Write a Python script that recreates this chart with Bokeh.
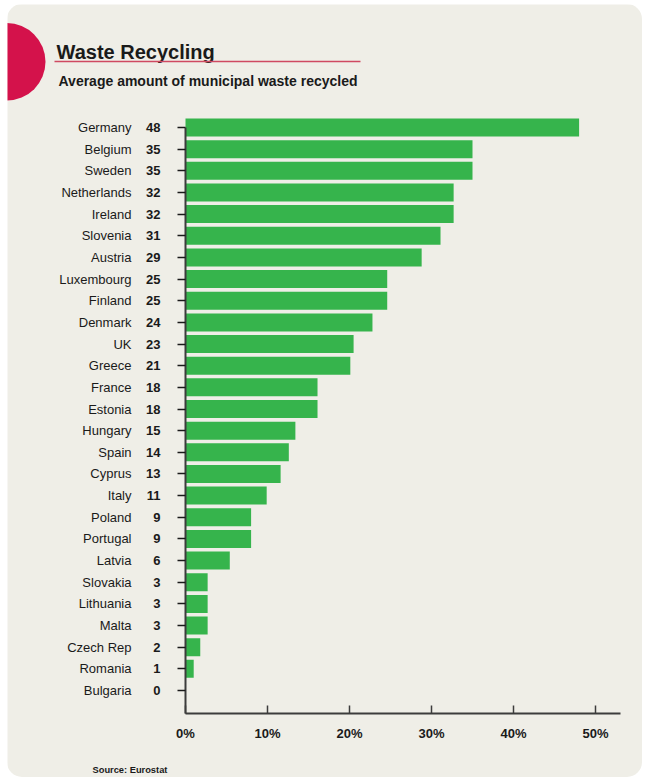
from bokeh.plotting import figure
from bokeh.models import ColumnDataSource, FixedTicker, LinearAxis, Range1d, PrintfTickFormatter
from bokeh.core.properties import value
from bokeh.embed import file_html
from bokeh.resources import INLINE

# ---------------- data ----------------
countries = ["Germany", "Belgium", "Sweden", "Netherlands", "Ireland", "Slovenia", "Austria",
             "Luxembourg", "Finland", "Denmark", "UK", "Greece", "France", "Estonia", "Hungary",
             "Spain", "Cyprus", "Italy", "Poland", "Portugal", "Latvia", "Slovakia", "Lithuania",
             "Malta", "Czech Rep", "Romania", "Bulgaria"]
bar_values = [48.0, 35.0, 35.0, 32.7, 32.7, 31.1, 28.8, 24.6, 24.6, 22.8, 20.5, 20.1, 16.1, 16.1,
              13.4, 12.6, 11.6, 9.9, 8.0, 8.0, 5.4, 2.7, 2.7, 2.7, 1.8, 1.0, 0.0]
label_values = [48, 35, 35, 32, 32, 31, 29, 25, 25, 24, 23, 21, 18, 18, 15, 14, 13, 11, 9, 9, 6,
                3, 3, 3, 2, 1, 0]
x_ticks = [0, 10, 20, 30, 40, 50]
title_text = "Waste Recycling"
subtitle_text = "Average amount of municipal waste recycled"
source_text = "Source: Eurostat"

# ---------------- styles ----------------
PANEL = "#efeee7"
GREEN = "#36b44c"
RED = "#d4124b"
RED_LINE = "#cf4a62"
INK = "#1a1a1a"
AXIS = "#3c3c3c"
FONT = "Liberation Sans"

# panel placement on the page (pixels)
PAGE_L, PAGE_T, PAGE_R, PAGE_B = 7, 4, 642, 777
W, H = PAGE_R - PAGE_L, PAGE_B - PAGE_T

n = len(countries)
idx = [n - 1 - i for i in range(n)]
src = ColumnDataSource(dict(y=idx, v=bar_values, c=countries))

# scale geometry (page pixels)
PX_PER_UNIT_X = 8.2
X0_PAGE = 185.0                  # 0 % position
Y_BOTTOM_ROW, Y_TOP_ROW = 690.0, 127.0
STEP_Y = (Y_BOTTOM_ROW - Y_TOP_ROW) / (n - 1)
AXIS_Y_PAGE = 713.0
AXIS_X_END_PAGE = 620.0


def dx(px):
    return (px - X0_PAGE) / PX_PER_UNIT_X


def dy(py):
    return (Y_BOTTOM_ROW - py) / STEP_Y


p = figure(width=W, height=H,
           x_range=Range1d(dx(PAGE_L), dx(PAGE_R)), y_range=Range1d(dy(PAGE_B), dy(PAGE_T)),
           toolbar_location=None, output_backend="svg", min_border=0)
p.margin = (PAGE_T, 650 - PAGE_R, 0, PAGE_L)
p.styles = {"border-radius": "15px", "overflow": "hidden"}
p.outline_line_color = None
p.background_fill_color = PANEL
p.border_fill_color = PANEL
p.xgrid.visible = False
p.ygrid.visible = False

p.hbar(y="y", left=0, right="v", height=18 / STEP_Y, source=src, fill_color=GREEN,
       line_color=None)

# x axis (pinned at the bottom of the bar area)
xa = p.xaxis[0]
xa.fixed_location = dy(AXIS_Y_PAGE)
xa.bounds = (0, dx(AXIS_X_END_PAGE))
xa.ticker = FixedTicker(ticks=x_ticks)
xa.formatter = PrintfTickFormatter(format="%d%%")
xa.axis_line_color = AXIS
xa.axis_line_width = 2
xa.major_tick_in = 8
xa.major_tick_out = 0
xa.major_tick_line_color = AXIS
xa.major_tick_line_width = 1.5
xa.minor_tick_line_color = None
xa.major_label_standoff = 12
xa.major_label_text_font = FONT
xa.major_label_text_font_style = "bold"
xa.major_label_text_font_size = "13px"
xa.major_label_text_color = INK

# inner y axis: value labels (pinned at 0 %)
ya = p.yaxis[0]
ya.fixed_location = 0
ya.ticker = FixedTicker(ticks=idx)
ya.major_label_overrides = {i: str(v) for i, v in zip(idx, label_values)}
ya.bounds = (dy(AXIS_Y_PAGE), n - 1)
ya.axis_line_color = AXIS
ya.axis_line_width = 2
ya.major_tick_out = 8
ya.major_tick_in = 0
ya.major_tick_line_color = INK
ya.major_tick_line_width = 1.5
ya.minor_tick_line_color = None
ya.major_label_standoff = 17
ya.major_label_text_font = FONT
ya.major_label_text_font_style = "bold"
ya.major_label_text_font_size = "13px"
ya.major_label_text_color = INK

# outer y axis: country names
ya2 = LinearAxis(ticker=FixedTicker(ticks=idx), fixed_location=0,
                 major_label_overrides={i: c for i, c in zip(idx, countries)})
ya2.axis_line_color = None
ya2.major_tick_line_color = None
ya2.minor_tick_line_color = None
ya2.major_tick_out = 0
ya2.major_tick_in = 0
ya2.major_label_standoff = 54
ya2.major_label_text_font = FONT
ya2.major_label_text_font_size = "13px"
ya2.major_label_text_color = INK
p.add_layout(ya2, "left")

# ---------------- header / footer ----------------
p.scatter(x=[dx(6.3)], y=[dy(61.3)], size=77.4, marker="circle", fill_color=RED,
          line_color=None)
p.text(x=[dx(56)], y=[dy(51.7)], text=[title_text], text_font=value(FONT),
       text_font_style="bold", text_font_size="20px", text_color=INK,
       text_baseline="alphabetic", text_align="left")
p.segment(x0=[dx(54)], y0=[dy(61)], x1=[dx(360)], y1=[dy(61)], line_color=RED_LINE,
          line_width=1.5)
p.text(x=[dx(58)], y=[dy(80)], text=[subtitle_text], text_font=value(FONT),
       text_font_style="bold", text_font_size="14px", text_color=INK,
       text_baseline="alphabetic", text_align="left")
p.text(x=[dx(92)], y=[dy(769)], text=[source_text], text_font=value(FONT),
       text_font_style="bold", text_font_size="9.3px", text_color=INK,
       text_baseline="alphabetic", text_align="left")

open("out.html", "w").write(file_html(p, INLINE))
